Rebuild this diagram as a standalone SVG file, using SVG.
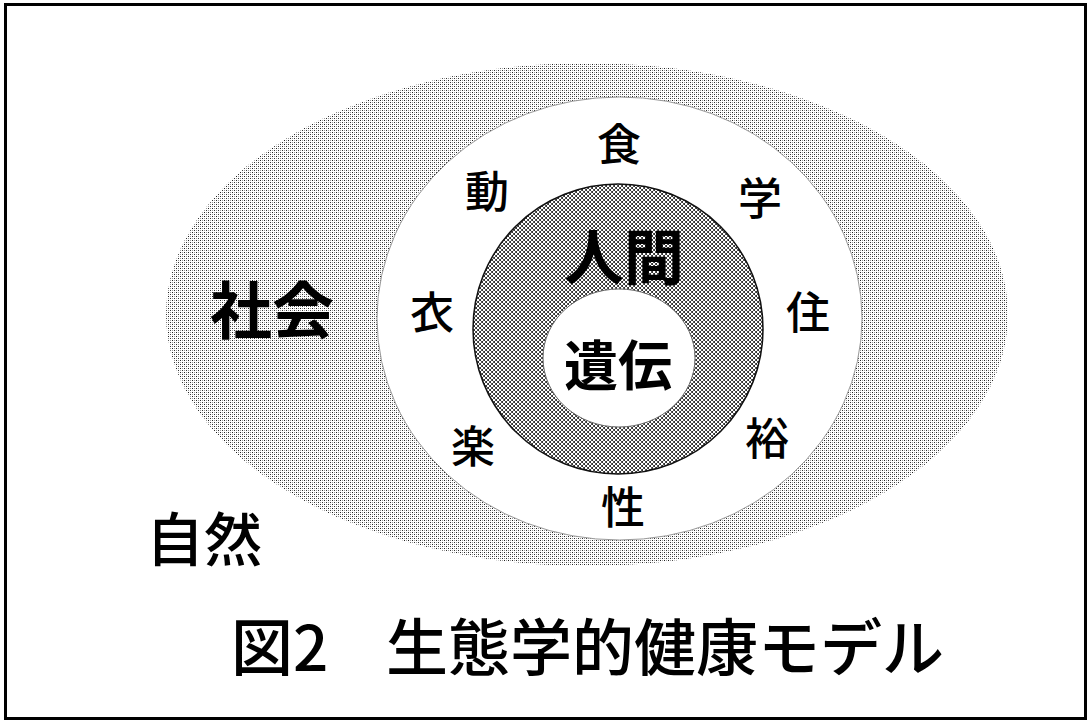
<svg xmlns="http://www.w3.org/2000/svg" width="1088" height="721" viewBox="0 0 1088 721">
<defs>
<pattern id="dots" patternUnits="userSpaceOnUse" width="4" height="4">
<rect x="0" y="0" width="1" height="1" fill="#222"/>
<rect x="2" y="2" width="1" height="1" fill="#333"/>
<rect x="2" y="0" width="1" height="1" fill="#999"/>
<rect x="0" y="2" width="1" height="1" fill="#999"/>
</pattern>
<pattern id="cross" patternUnits="userSpaceOnUse" width="4" height="4">
<rect width="4" height="4" fill="#fff"/>
<rect x="0" y="0" width="1" height="1" fill="#333"/>
<rect x="1" y="1" width="1" height="1" fill="#555"/>
<rect x="2" y="2" width="1" height="1" fill="#333"/>
<rect x="3" y="3" width="1" height="1" fill="#555"/>
<rect x="3" y="0" width="1" height="1" fill="#555"/>
<rect x="2" y="1" width="1" height="1" fill="#333"/>
<rect x="1" y="2" width="1" height="1" fill="#555"/>
<rect x="0" y="3" width="1" height="1" fill="#333"/>
</pattern>
</defs>
<style>
text{font-family:"Noto Sans CJK JP","Noto Sans CJK SC",sans-serif;fill:#000;text-anchor:middle}
.s{font-size:44px;font-weight:500}
.b{font-weight:700}
</style>
<rect x="0" y="0" width="1088" height="721" fill="#fff"/>
<rect x="5.5" y="4.5" width="1080" height="714" fill="none" stroke="#000" stroke-width="3"/>
<g id="nature">
<ellipse cx="587" cy="314.5" rx="421" ry="251.5" fill="url(#dots)"/>
<text x="204" y="561" style="font-size:58px;font-weight:500">自然</text>
</g>
<g id="society">
<ellipse cx="619.5" cy="318.5" rx="242.5" ry="221.5" fill="#fff" stroke="#999" stroke-width="1"/>
<text class="b" x="272" y="334" style="font-size:62px">社会</text>
<text class="s" x="619" y="161">食</text>
<text class="s" x="487" y="208">動</text>
<text class="s" x="760" y="215">学</text>
<text class="s" x="432" y="329">衣</text>
<text class="s" x="808" y="329">住</text>
<text class="s" x="473" y="463">楽</text>
<text class="s" x="767" y="455">裕</text>
<text class="s" x="623" y="524">性</text>
</g>
<g id="human">
<circle cx="618" cy="329" r="145" fill="url(#cross)" stroke="#111" stroke-width="1.5"/>
<text class="b" x="624" y="280" style="font-size:60px">人間</text>
</g>
<g id="heredity">
<ellipse cx="619" cy="358" rx="76" ry="69" fill="#fff" stroke="#666" stroke-width="1"/>
<text class="b" x="618" y="386" style="font-size:54px">遺伝</text>
</g>
<g id="title">
<text x="231" y="671" style="font-size:62px;font-weight:500;text-anchor:start">図2</text>
<text x="386" y="671" style="font-size:62px;font-weight:500;text-anchor:start">生態学的健康モデル</text>
</g>
<g id="connectors"/>
</svg>
